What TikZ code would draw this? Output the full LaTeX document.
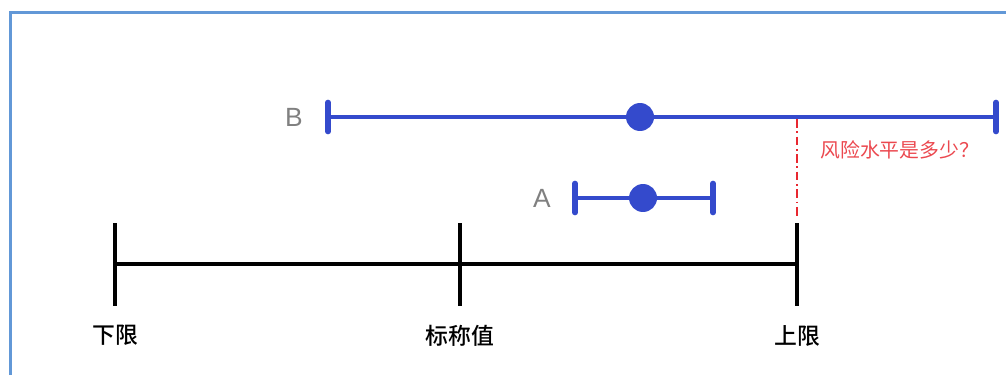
\documentclass[tikz,border=0pt]{standalone}
\usepackage{fontspec}
\usepackage{tikz}
\usetikzlibrary{positioning}
\newfontfamily\cjk{Noto Sans CJK SC}[BoldFont={Noto Sans CJK SC Medium}]
\newfontfamily\latinsans{Liberation Sans}
\definecolor{barblue}{RGB}{52,74,204}
\definecolor{frameblue}{RGB}{98,152,215}
\definecolor{riskred}{RGB}{232,40,48}
\definecolor{lblgray}{RGB}{128,128,128}

\begin{document}
\begin{tikzpicture}[x=0.02cm, y=-0.02cm,
    bar/.style={barblue, line width=2.8pt},
    capline/.style={barblue, line width=3.2pt, line cap=round},
    dot/.style={circle, fill=barblue, inner sep=0pt, minimum size=0.56cm},
    axisline/.style={black, line width=2pt},
    tick/.style={black, line width=1.8pt},
    lbl/.style={font=\cjk\bfseries\fontsize{13}{15}\selectfont, inner sep=0pt},
    letter/.style={font=\latinsans\fontsize{15}{17}\selectfont, text=lblgray, inner sep=0pt}]
          \useasboundingbox (0,0) rectangle (1006,375);
          \draw[frameblue, line width=1.2pt] (10.5,375) -- (10.5,12.5) -- (1006,12.5);

          % intervals
          \coordinate (bL) at (328,117);
          \coordinate (bR) at (996,117);
          \coordinate (aL) at (575,198);
          \coordinate (aR) at (713,198);
          \draw[bar] (bL) -- (bR);
          \draw[bar] (aL) -- (aR);
          \foreach \p in {bL,bR,aL,aR}
            \draw[capline] ([yshift=0.29cm]\p) -- ([yshift=-0.29cm]\p);
          \node[dot] (bM) at (640,117) {};
          \node[dot] (aM) at (643,198) {};
          \node[letter] (bT) [left=0.5cm of bL] {B};
          \node[letter] (aT) [left=0.48cm of aL] {A};

          % axis
          \coordinate (lo)  at (115,264);
          \coordinate (nom) at (460,264);
          \coordinate (up)  at (797,264);
          \draw[axisline] (lo) -- (up);
          \foreach \t/\txt in {lo/下限, nom/标称值, up/上限} {
            \draw[tick] ([yshift=0.82cm]\t) -- ([yshift=-0.84cm]\t);
            \node[lbl] (\t-l) [below=1.22cm of \t] {\txt};
          }

          % risk
          \coordinate (risk) at (797,119);
          \coordinate (uptop) at (797,219);
          \draw[riskred, line width=1.4pt, dash pattern=on 5pt off 2pt on 1pt off 2pt] (risk) -- (uptop);
          \node[font=\cjk\fontsize{11.3}{13}\selectfont, text=riskred!85, anchor=west, inner sep=0pt] (q) at (820,150) {风险水平是多少？};
\end{tikzpicture}
\end{document}
